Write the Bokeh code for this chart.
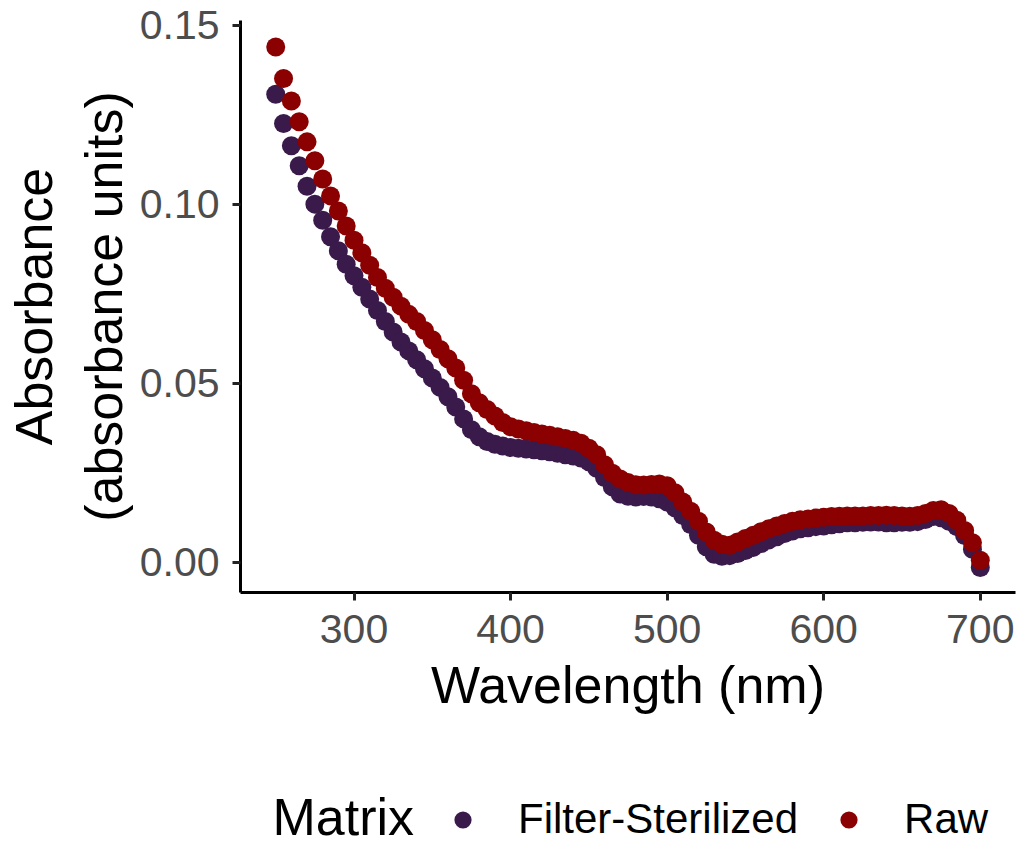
import numpy as np
from bokeh.plotting import figure
from bokeh.layouts import column
from bokeh.models import Range1d, FixedTicker, NumeralTickFormatter, Legend, LegendItem, Label
from bokeh.embed import file_html
from bokeh.resources import INLINE

# ---------------- data ----------------
wavelength = [250, 255, 260, 265, 270, 275, 280, 285, 290, 295,
              300, 305, 310, 315, 320, 325, 330, 335, 340, 345,
              350, 355, 360, 365, 370, 375, 380, 385, 390, 395,
              400, 405, 410, 415, 420, 425, 430, 435, 440, 445,
              450, 455, 460, 465, 470, 475, 480, 485, 490, 495,
              500, 505, 510, 515, 520, 525, 530, 535, 540, 545,
              550, 555, 560, 565, 570, 575, 580, 585, 590, 595,
              600, 605, 610, 615, 620, 625, 630, 635, 640, 645,
              650, 655, 660, 665, 670, 675, 680, 685, 690, 695,
              700]

raw = [0.1439, 0.1351, 0.1288, 0.1230, 0.1174, 0.1121, 0.1070, 0.1023, 0.0981, 0.0939,
       0.0899, 0.0864, 0.0829, 0.0795, 0.0765, 0.0740, 0.0715, 0.0692, 0.0672, 0.0647,
       0.0621, 0.0594, 0.0568, 0.0542, 0.0508, 0.0470, 0.0445, 0.0426, 0.0408, 0.0390,
       0.0378, 0.0372, 0.0367, 0.0362, 0.0358, 0.0354, 0.0350, 0.0345, 0.0340, 0.0332,
       0.0318, 0.0300, 0.0272, 0.0248, 0.0232, 0.0222, 0.0216, 0.0215, 0.0217, 0.0218,
       0.0213, 0.0194, 0.0168, 0.0142, 0.0114, 0.0084, 0.0061, 0.0050, 0.0047, 0.0056,
       0.0066, 0.0075, 0.0085, 0.0093, 0.0101, 0.0108, 0.0114, 0.0118, 0.0120, 0.0123,
       0.0125, 0.0127, 0.0128, 0.0129, 0.0129, 0.0129, 0.0130, 0.0130, 0.0131, 0.0130,
       0.0129, 0.0128, 0.0130, 0.0136, 0.0144, 0.0146, 0.0136, 0.0117, 0.0088, 0.0054,
       0.0005]

filter_sterilized = [0.1307, 0.1225, 0.1163, 0.1107, 0.1050, 0.1000, 0.0955, 0.0909, 0.0870, 0.0832,
                     0.0800, 0.0768, 0.0735, 0.0703, 0.0672, 0.0643, 0.0615, 0.0590, 0.0565, 0.0540,
                     0.0514, 0.0488, 0.0462, 0.0433, 0.0400, 0.0370, 0.0350, 0.0337, 0.0329, 0.0324,
                     0.0320, 0.0318, 0.0316, 0.0314, 0.0311, 0.0308, 0.0304, 0.0300, 0.0296, 0.0291,
                     0.0280, 0.0262, 0.0236, 0.0210, 0.0190, 0.0184, 0.0182, 0.0183, 0.0182, 0.0177,
                     0.0168, 0.0152, 0.0130, 0.0105, 0.0075, 0.0043, 0.0022, 0.0016, 0.0018, 0.0024,
                     0.0032, 0.0041, 0.0052, 0.0062, 0.0071, 0.0080, 0.0087, 0.0093, 0.0096, 0.0099,
                     0.0101, 0.0104, 0.0107, 0.0110, 0.0110, 0.0111, 0.0112, 0.0112, 0.0110, 0.0110,
                     0.0111, 0.0111, 0.0113, 0.0119, 0.0127, 0.0124, 0.0114, 0.0099, 0.0074, 0.0036,
                     -0.0015]

series_names = ["Filter-Sterilized", "Raw"]
series_colors = ["#3a1a4b", "#8b0000"]
x_ticks = [300, 400, 500, 600, 700]
y_ticks = [0.00, 0.05, 0.10, 0.15]
x_title = "Wavelength (nm)"
y_title = "Absorbance\n(absorbance units)"
legend_title = "Matrix"

FONT = "Liberation Sans"
W = 1021
H_MAIN = 760
H_LEG = 87
FRAME_L = 240
FRAME_R = 1015

# ---------------- main plot ----------------
p = figure(width=W, height=H_MAIN, output_backend="svg", toolbar_location=None,
           x_range=Range1d(227.5, 722.5), y_range=Range1d(-0.0085, 0.1513),
           min_border_left=FRAME_L, min_border_right=W - FRAME_R, min_border_top=20,
           min_border_bottom=H_MAIN - 592)
p.outline_line_color = None
p.xgrid.visible = False
p.ygrid.visible = False

r_f = p.scatter(wavelength, filter_sterilized, size=19, color=series_colors[0], line_color=None)
r_r = p.scatter(wavelength, raw, size=19, color=series_colors[1], line_color=None)

for ax in (p.xaxis[0], p.yaxis[0]):
    ax.axis_line_color = "black"
    ax.axis_line_width = 3
    ax.major_tick_line_color = "#222222"
    ax.major_tick_line_width = 3
    ax.major_tick_out = 8
    ax.major_tick_in = 0
    ax.minor_tick_line_color = None
    ax.major_label_text_font = FONT
    ax.major_label_text_font_size = "41px"
    ax.major_label_text_color = "#4d4d4d"
    ax.axis_label_text_font = FONT
    ax.axis_label_text_font_size = "52px"
    ax.axis_label_text_font_style = "normal"
    ax.axis_label_text_color = "black"

p.xaxis.ticker = FixedTicker(ticks=x_ticks)
p.yaxis.ticker = FixedTicker(ticks=y_ticks)
p.yaxis.formatter = NumeralTickFormatter(format="0.00")
p.xaxis.major_label_standoff = 14
p.yaxis.major_label_standoff = 13
p.xaxis.axis_label = x_title
p.xaxis.axis_label_standoff = 10
p.yaxis.axis_label = y_title
p.yaxis.axis_label_standoff = 4

# ---------------- legend strip ----------------
# the column aligns this strip's frame with the main frame, so the ranges below
# are chosen so that one unit equals one page pixel
leg = figure(width=W, height=H_LEG, output_backend="svg", toolbar_location=None,
             x_range=Range1d(FRAME_L, FRAME_R), y_range=Range1d(H_MAIN + H_LEG, H_MAIN),
             x_axis_type=None, y_axis_type=None,
             min_border_left=FRAME_L, min_border_right=W - FRAME_R,
             min_border_top=0, min_border_bottom=0)
leg.outline_line_color = None
leg.xgrid.visible = False
leg.ygrid.visible = False

k_f = leg.scatter(x=np.array([np.nan]), y=np.array([np.nan]), size=19,
                  color=series_colors[0], line_color=None)
k_r = leg.scatter(x=np.array([np.nan]), y=np.array([np.nan]), size=19,
                  color=series_colors[1], line_color=None)

legend = Legend(items=[LegendItem(label=series_names[0], renderers=[k_f]),
                       LegendItem(label=series_names[1], renderers=[k_r])],
                orientation="horizontal", location=(441 - FRAME_L, 4),
                padding=0, margin=0, spacing=29,
                glyph_width=43, glyph_height=43, label_standoff=34,
                label_text_font=FONT, label_text_font_size="42px", label_text_color="black",
                border_line_color=None, background_fill_alpha=0)
leg.add_layout(legend)
leg.add_layout(Label(x=272, y=816, text=legend_title, text_align="left",
                     text_baseline="middle", text_font=FONT, text_font_size="52px",
                     text_color="black"))

layout = column(p, leg, spacing=0)
open("out.html", "w").write(file_html(layout, INLINE))
